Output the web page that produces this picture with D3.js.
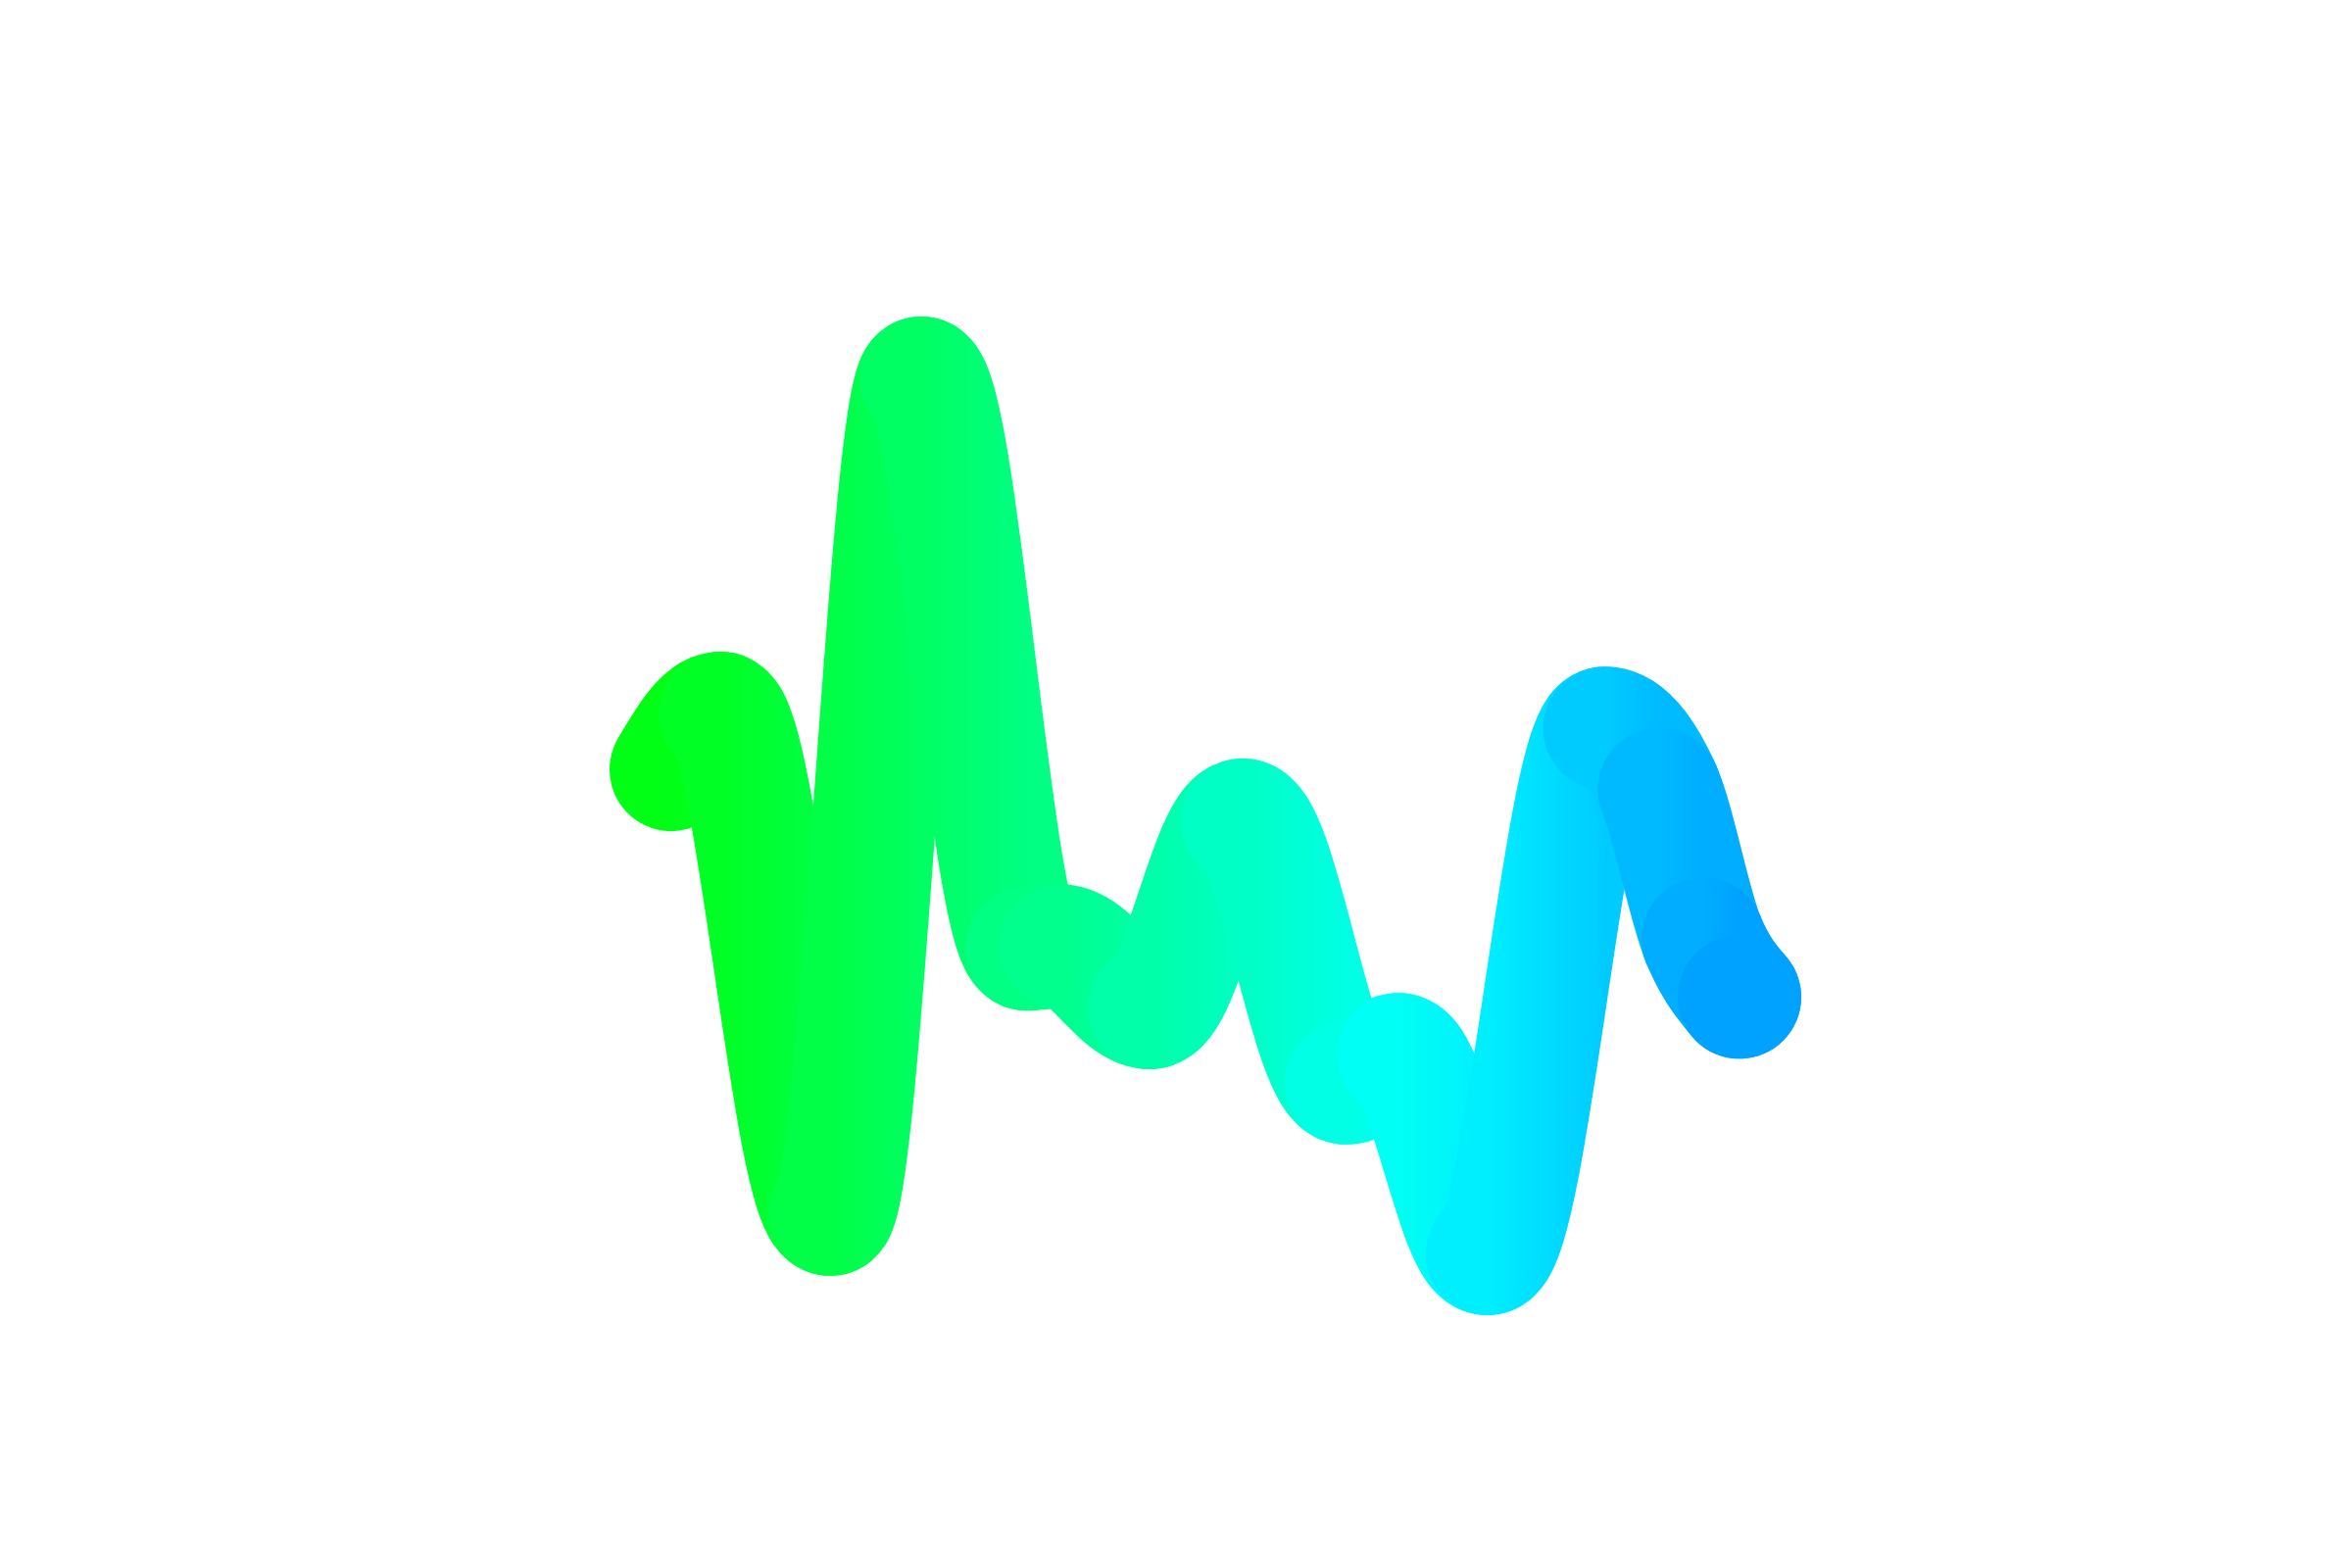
<!DOCTYPE html>
<html>
<head>
<meta charset="utf-8">
<script src="https://cdn.jsdelivr.net/npm/d3@7"></script>
<style>
  html, body { margin: 0; padding: 0; background: #fff; }
  svg { display: block; }
</style>
</head>
<body>
<svg id="chart" width="2400" height="1600"></svg>
<script>
// Data
const xValues = [0, 4.6, 14.9, 23.4, 33.3, 36.5, 44.8, 53.5, 63.2, 68.1, 76.4, 87.4, 92.5, 96.6, 100];
const yValues = [55.3, 61.7, 4.5, 100, 34.8, 35.1, 28.1, 49.5, 19.5, 22.7, 0, 60.0, 53.0, 35.9, 29.3];

const data = xValues.map((v, i) => ({ x: v, y: yValues[i] }));

const svg = d3.select("#chart");
const x = d3.scaleLinear().domain([0, 100]).range([685, 1775]);
const y = d3.scaleLinear().domain([0, 100]).range([1279, 386]);
const color = d3.scaleLinear()
  .domain([0, 100])
  .range(["hsl(125,100%,50%)", "hsl(202,100%,50%)"])
  .interpolate(d3.interpolateHsl);

const strokeW = 126;

const line = d3.line().x(d => x(d.x)).y(d => y(d.y)).curve(d3.curveMonotoneX);
const full = line(data);
const parts = full.split("C");
const segs = [];
let start = parts[0].slice(1);
for (let k = 1; k < parts.length; k++) {
  segs.push("M" + start + "C" + parts[k]);
  const nums = parts[k].split(",");
  start = nums[nums.length - 2] + "," + nums[nums.length - 1];
}

const defs = svg.append("defs");
segs.forEach((s, i) => {
  const g = defs.append("linearGradient")
    .attr("id", "g" + i)
    .attr("gradientUnits", "userSpaceOnUse")
    .attr("x1", x(data[i].x)).attr("x2", x(data[i + 1].x))
    .attr("y1", 0).attr("y2", 0);
  g.append("stop").attr("offset", 0).attr("stop-color", color(data[i].x));
  g.append("stop").attr("offset", 1).attr("stop-color", color(data[i + 1].x));
});

svg.append("g")
  .selectAll("path")
  .data(segs)
  .join("path")
  .attr("d", d => d)
  .attr("fill", "none")
  .attr("stroke", (d, i) => `url(#g${i})`)
  .attr("stroke-width", strokeW)
  .attr("stroke-linecap", "round")
  .attr("stroke-linejoin", "round");

const last = data[data.length - 1];
svg.append("circle")
  .attr("cx", x(last.x))
  .attr("cy", y(last.y))
  .attr("r", strokeW / 2)
  .attr("fill", color(last.x));
</script>
</body>
</html>
